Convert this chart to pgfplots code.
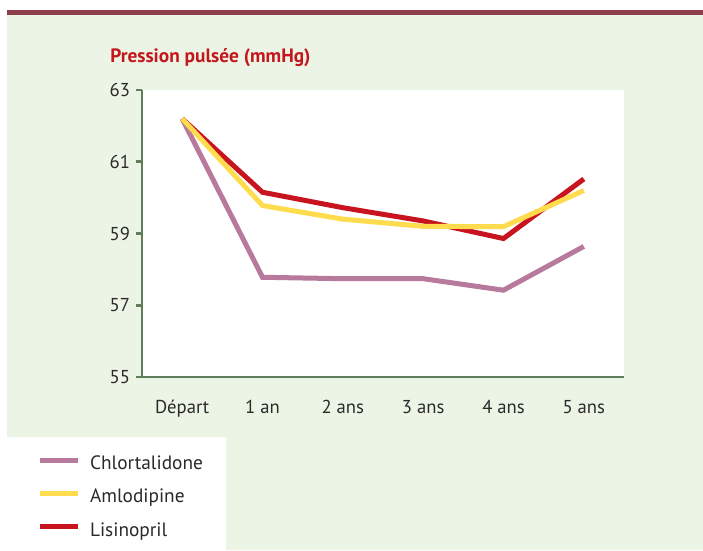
\documentclass[border=0pt]{standalone}
\usepackage{pgfplots}
\pgfplotsset{compat=1.18}
\usepackage{fontspec}
\setmainfont{PT Sans}
\definecolor{bggreen}{HTML}{ECF4E5}
\definecolor{topline}{HTML}{8E3D4B}
\definecolor{axgreen}{HTML}{5F7F5C}
\definecolor{cpurple}{HTML}{B77A9C}
\definecolor{cyellow}{HTML}{FFDC4E}
\definecolor{cred}{HTML}{C8141F}
\definecolor{titlered}{HTML}{C4161C}
\definecolor{txt}{HTML}{2A2A2A}
\begin{document}
\begin{tikzpicture}
\begin{scope}[x=0.75pt,y=-0.75pt]
\fill[white] (0,0) rectangle (703,550);
\fill[bggreen] (7,15) -- (703,15) -- (703,550) -- (226,550) -- (226,437) -- (7,437) -- cycle;
\fill[topline] (7,10) rectangle (703,15);
\node[anchor=base west, font=\bfseries\fontsize{14.5}{17}\selectfont, text=titlered, inner sep=0pt] at (110,62) {Pression pulsée (mmHg)};
\end{scope}
\begin{axis}[
  at={(106.5pt,-282.75pt)}, anchor=south west,
  scale only axis, width=361.5pt, height=215.25pt,
  axis x line*=bottom, axis y line*=left,
  axis line style={axgreen, line width=1.9pt},
  axis background/.style={fill=white},
  xmin=-0.5, xmax=5.5, ymin=55, ymax=63,
  ytick={55,57,59,61,63},
  xtick={0,1,2,3,4,5},
  xticklabels={Départ,1 an,2 ans,3 ans,4 ans,5 ans},
  minor xtick={-0.5,0.5,1.5,2.5,3.5,4.5,5.5},
  tick align=outside,
  major tick length=4.5pt, minor tick length=6pt,
  xtick style={draw=none},
  ytick style={axgreen, line width=1.9pt},
  minor x tick style={axgreen, line width=1.9pt},
  /pgf/number format/assume math mode=true,
  tick label style={font=\fontsize{14}{16}\selectfont, text=txt},
  xticklabel style={yshift=-9.5pt},
  yticklabel style={xshift=-1pt},
  legend style={at={(-0.217,-0.27)}, anchor=north west, draw=none, fill=none,
    font=\fontsize{14.5}{16}\selectfont, text=txt, inner sep=0pt, row sep=10pt,
    nodes={inner sep=1pt, text height=10pt, text depth=3pt},
    /tikz/every odd column/.append style={column sep=6pt}},
  legend cell align=left,
  legend image code/.code={\draw[#1, line width=3.75pt] (0pt,3.5pt) -- (28.5pt,3.5pt);},
]
\addplot[cpurple, line width=3.75pt, forget plot] coordinates {(0,62.2) (1,57.78) (2,57.74) (3,57.74) (4,57.42) (5,58.64)};
\addplot[cred, line width=3.75pt, forget plot] coordinates {(0,62.2) (1,60.15) (2,59.72) (3,59.35) (4,58.86) (5,60.52)};
\addplot[cyellow, line width=3.75pt, forget plot] coordinates {(0,62.2) (1,59.78) (2,59.40) (3,59.20) (4,59.19) (5,60.20)};
\addlegendimage{cpurple}
\addlegendentry{Chlortalidone}
\addlegendimage{cyellow}
\addlegendentry{Amlodipine}
\addlegendimage{cred}
\addlegendentry{Lisinopril}
\end{axis}
\end{tikzpicture}
\end{document}
